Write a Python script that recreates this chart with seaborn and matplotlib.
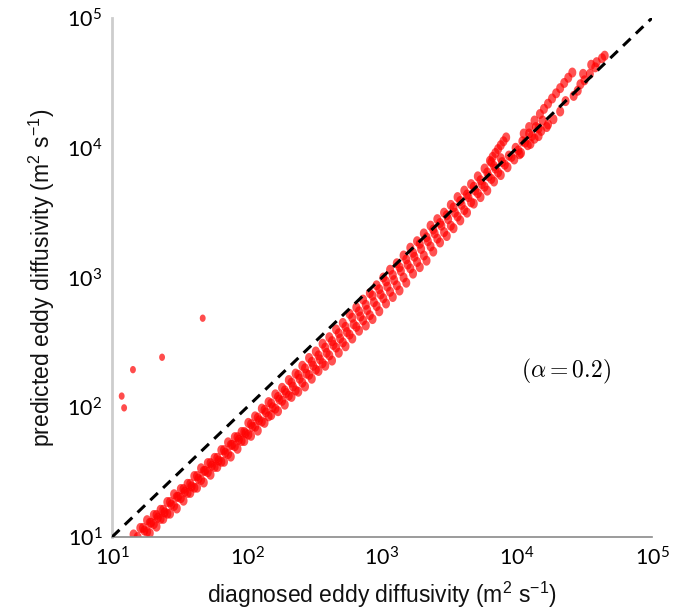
import numpy as np
import pandas as pd
import matplotlib
matplotlib.use("Agg")
import matplotlib.pyplot as plt
import seaborn as sns
from matplotlib.ticker import LogLocator, FuncFormatter, NullFormatter

# ---------------- data (in log10 units) ----------------
# upper edge of the main band
band_u_logx = [1.16, 1.21, 1.26, 1.31, 1.36, 1.41, 1.46, 1.51, 1.56, 1.61,
               1.66, 1.71, 1.76, 1.81, 1.86, 1.91, 1.96, 2.01, 2.06, 2.11,
               2.16, 2.21, 2.26, 2.31, 2.36, 2.41, 2.46, 2.51, 2.56, 2.61,
               2.66, 2.71, 2.76, 2.81, 2.86, 2.91, 2.96, 3.01, 3.06, 3.11,
               3.16, 3.21, 3.26, 3.31, 3.36, 3.41, 3.46, 3.51, 3.56, 3.61,
               3.66, 3.71, 3.76, 3.81]
band_u_logy = [1.02, 1.07, 1.13, 1.17, 1.21, 1.27, 1.33, 1.37, 1.41, 1.47,
               1.53, 1.57, 1.61, 1.67, 1.73, 1.77, 1.81, 1.88, 1.93, 1.99,
               2.04, 2.10, 2.15, 2.21, 2.26, 2.32, 2.38, 2.43, 2.49, 2.54,
               2.60, 2.65, 2.72, 2.77, 2.83, 2.88, 2.94, 3.00, 3.06, 3.11,
               3.17, 3.23, 3.28, 3.34, 3.40, 3.45, 3.50, 3.56, 3.62, 3.67,
               3.72, 3.78, 3.84, 3.89]
# between upper edge and middle
band_um_logx = [1.23, 1.28, 1.33, 1.38, 1.43, 1.48, 1.53, 1.58, 1.63, 1.68,
                1.73, 1.78, 1.83, 1.88, 1.93, 1.98, 2.03, 2.08, 2.13, 2.18,
                2.23, 2.28, 2.33, 2.38, 2.43, 2.48, 2.53, 2.58, 2.63, 2.68,
                2.73, 2.78, 2.83, 2.88, 2.93, 2.98, 3.03, 3.08, 3.13, 3.18,
                3.23, 3.28, 3.33, 3.38, 3.43, 3.48, 3.53, 3.58, 3.63, 3.68,
                3.73, 3.78, 3.83, 3.88]
band_um_logy = [1.07, 1.11, 1.17, 1.21, 1.27, 1.31, 1.37, 1.41, 1.47, 1.51,
                1.57, 1.61, 1.67, 1.71, 1.77, 1.81, 1.87, 1.92, 1.98, 2.03,
                2.08, 2.13, 2.19, 2.25, 2.30, 2.35, 2.40, 2.46, 2.51, 2.57,
                2.62, 2.69, 2.74, 2.79, 2.86, 2.91, 2.97, 3.02, 3.08, 3.14,
                3.19, 3.26, 3.31, 3.37, 3.42, 3.48, 3.54, 3.59, 3.64, 3.70,
                3.75, 3.81, 3.86, 3.92]
# middle of the main band
band_m_logx = [1.19, 1.24, 1.29, 1.34, 1.39, 1.44, 1.49, 1.54, 1.59, 1.64,
               1.69, 1.74, 1.79, 1.84, 1.89, 1.94, 1.99, 2.04, 2.09, 2.14,
               2.19, 2.24, 2.29, 2.34, 2.39, 2.44, 2.49, 2.54, 2.59, 2.64,
               2.69, 2.74, 2.79, 2.84, 2.89, 2.94, 2.99, 3.04, 3.09, 3.14,
               3.19, 3.24, 3.29, 3.34, 3.39, 3.44, 3.49, 3.54, 3.59, 3.64,
               3.69, 3.74, 3.79, 3.84, 3.89, 3.94, 3.99, 4.04, 4.09, 4.14,
               4.19]
band_m_logy = [1.00, 1.05, 1.11, 1.15, 1.19, 1.25, 1.31, 1.35, 1.39, 1.45,
               1.51, 1.55, 1.59, 1.65, 1.71, 1.75, 1.80, 1.85, 1.90, 1.96,
               2.00, 2.06, 2.11, 2.16, 2.22, 2.26, 2.32, 2.37, 2.42, 2.48,
               2.53, 2.58, 2.64, 2.70, 2.75, 2.81, 2.87, 2.93, 2.98, 3.05,
               3.10, 3.16, 3.22, 3.28, 3.34, 3.40, 3.45, 3.50, 3.56, 3.62,
               3.67, 3.72, 3.78, 3.84, 3.89, 3.94, 4.00, 4.05, 4.11, 4.16,
               4.21]
# between middle and lower edge
band_ml_logx = [1.26, 1.31, 1.36, 1.41, 1.46, 1.51, 1.56, 1.61, 1.66, 1.71,
                1.76, 1.81, 1.86, 1.91, 1.96, 2.01, 2.06, 2.11, 2.16, 2.21,
                2.26, 2.31, 2.36, 2.41, 2.46, 2.51, 2.56, 2.61, 2.66, 2.71,
                2.76, 2.81, 2.86, 2.91, 2.96, 3.01, 3.06, 3.11, 3.16, 3.21,
                3.26, 3.31, 3.36, 3.41, 3.46, 3.51, 3.56, 3.61, 3.66, 3.71,
                3.76, 3.81, 3.86, 3.91, 3.96, 4.01, 4.06, 4.11, 4.16]
band_ml_logy = [1.04, 1.10, 1.14, 1.18, 1.24, 1.30, 1.34, 1.38, 1.44, 1.50,
                1.54, 1.58, 1.64, 1.70, 1.74, 1.79, 1.85, 1.89, 1.93, 1.99,
                2.05, 2.09, 2.13, 2.19, 2.25, 2.29, 2.34, 2.40, 2.46, 2.50,
                2.56, 2.62, 2.67, 2.71, 2.78, 2.84, 2.89, 2.94, 3.00, 3.07,
                3.12, 3.17, 3.24, 3.30, 3.35, 3.40, 3.47, 3.52, 3.58, 3.65,
                3.70, 3.76, 3.81, 3.87, 3.93, 3.98, 4.04, 4.09, 4.15]
# lower edge of the main band
band_l_logx = [1.28, 1.33, 1.38, 1.43, 1.48, 1.53, 1.58, 1.63, 1.68, 1.73,
               1.78, 1.83, 1.88, 1.93, 1.98, 2.03, 2.08, 2.13, 2.18, 2.23,
               2.28, 2.33, 2.38, 2.43, 2.48, 2.53, 2.58, 2.63, 2.68, 2.73,
               2.78, 2.83, 2.88, 2.93, 2.98, 3.03, 3.08, 3.13, 3.18, 3.23,
               3.28, 3.33, 3.38, 3.43, 3.48, 3.53, 3.58, 3.63, 3.68, 3.73,
               3.78, 3.83, 3.88, 3.93, 3.98, 4.03, 4.08, 4.13, 4.18, 4.23]
band_l_logy = [1.03, 1.08, 1.14, 1.18, 1.22, 1.28, 1.34, 1.38, 1.42, 1.48,
               1.54, 1.58, 1.62, 1.68, 1.74, 1.78, 1.82, 1.88, 1.94, 1.97,
               2.02, 2.08, 2.12, 2.16, 2.22, 2.28, 2.32, 2.36, 2.42, 2.47,
               2.53, 2.59, 2.63, 2.68, 2.74, 2.80, 2.85, 2.90, 2.96, 3.03,
               3.08, 3.13, 3.20, 3.27, 3.32, 3.38, 3.44, 3.50, 3.57, 3.62,
               3.67, 3.74, 3.79, 3.85, 3.91, 3.96, 4.02, 4.07, 4.13, 4.18]
# two steep streaks at the high end
streak1_logx = [3.80, 3.82, 3.84, 3.86, 3.88, 3.90, 3.92]
streak1_logy = [3.90, 3.93, 3.96, 3.99, 4.02, 4.05, 4.08]
streak2_logx = [4.05, 4.09, 4.13, 4.17, 4.20, 4.23, 4.26, 4.29, 4.32, 4.35, 4.38, 4.41]
streak2_logy = [4.11, 4.16, 4.21, 4.26, 4.30, 4.34, 4.38, 4.42, 4.46, 4.50, 4.54, 4.58]
# scattered dots at the top end
top_logx = [4.65, 4.63, 4.59, 4.55, 4.58, 4.54, 4.49, 4.50, 4.47, 4.45,
            4.42, 4.36, 4.32, 4.27, 4.22, 4.02, 4.10, 4.16]
top_logy = [4.71, 4.69, 4.66, 4.64, 4.62, 4.57, 4.57, 4.52, 4.49, 4.44,
            4.40, 4.36, 4.28, 4.22, 4.16, 3.95, 4.03, 4.09]
# isolated outliers (m2 s-1)
outlier_diag = [11.8, 12.3, 14.3, 23.5, 47.0]
outlier_pred = [122, 99, 195, 243, 486]

one_to_one = [1e1, 1e5]
tick_exponents = [1, 2, 3, 4, 5]
units = r"(m$\mathregular{^{2}}$ s$\mathregular{^{-1}}$)"
xlabel = "diagnosed eddy diffusivity " + units
ylabel = "predicted eddy diffusivity " + units
annot = r"$(\alpha = 0.2)$"

# ---------------- assemble ----------------
logx = (band_u_logx + band_um_logx + band_m_logx + band_ml_logx + band_l_logx
        + streak1_logx + streak2_logx + top_logx)
logy = (band_u_logy + band_um_logy + band_m_logy + band_ml_logy + band_l_logy
        + streak1_logy + streak2_logy + top_logy)
df_band = pd.DataFrame({"diagnosed": 10 ** np.array(logx),
                        "predicted": 10 ** np.array(logy)})
df_out = pd.DataFrame({"diagnosed": outlier_diag, "predicted": outlier_pred})

sns.set_theme(style="white")
plt.rcParams["font.family"] = ["Liberation Sans", "DejaVu Sans"]

fig = plt.figure(figsize=(6.87, 6.12), dpi=100)
ax = fig.add_axes([0.163, 0.1225, 0.786, 0.848])
ax.set_xscale("log")
ax.set_yscale("log")

t = np.linspace(0, 2 * np.pi, 40)
ell = np.column_stack([0.8 * np.cos(t), np.sin(t)])

sns.scatterplot(data=df_band, x="diagnosed", y="predicted", color="#ff0000",
                alpha=0.68, s=52, marker=ell, edgecolor="none", linewidth=0,
                ax=ax, zorder=2, legend=False)
sns.scatterplot(data=df_out, x="diagnosed", y="predicted", color="#ff0000",
                alpha=0.7, s=28, marker=ell, edgecolor="none", linewidth=0,
                ax=ax, zorder=2, legend=False)

ax.plot(one_to_one, one_to_one, color="black", lw=2.2, dashes=(3.4, 2.4), zorder=3)

ax.set_xlim(10 ** tick_exponents[0], 10 ** tick_exponents[-1])
ax.set_ylim(10 ** tick_exponents[0], 10 ** tick_exponents[-1])

fmt = FuncFormatter(lambda v, p: r"$\mathregular{10^{%d}}$" % round(np.log10(v)))
for axis in (ax.xaxis, ax.yaxis):
    axis.set_major_locator(LogLocator(base=10, numticks=10))
    axis.set_minor_locator(LogLocator(base=10, subs=np.arange(2, 10), numticks=20))
    axis.set_major_formatter(fmt)
    axis.set_minor_formatter(NullFormatter())

ax.tick_params(which="major", direction="in", length=8, width=1, color="#8a8a8a",
               labelsize=15.5, pad=7, labelcolor="black")
ax.tick_params(which="minor", direction="in", length=4.5, width=1, color="#8a8a8a")
for lab in ax.get_xticklabels() + ax.get_yticklabels():
    lab.set_fontfamily(["Lato", "DejaVu Sans"])

for s in ("top", "right"):
    ax.spines[s].set_visible(False)
ax.spines["left"].set_color("#cdcdcd")
ax.spines["left"].set_linewidth(2.0)
ax.spines["bottom"].set_color("#8a8a8a")
ax.spines["bottom"].set_linewidth(1.2)
ax.grid(False)

ax.set_xlabel(xlabel, fontsize=16.5, color="#111111")
ax.set_ylabel(ylabel, fontsize=16.5, color="#111111")
ax.xaxis.set_label_coords(0.5, -0.083)
ax.yaxis.set_label_coords(-0.102, 0.5)

ax.text(0.841, 0.32, annot, transform=ax.transAxes, ha="center", va="center",
        fontsize=17, math_fontfamily="cm", color="black")

fig.savefig("out.png", dpi=100)
